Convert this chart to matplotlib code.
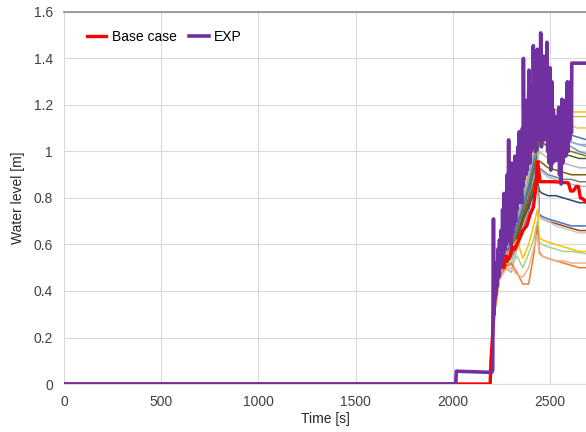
import matplotlib.pyplot as plt
from matplotlib.ticker import FuncFormatter, MultipleLocator

plt.rcParams['font.family'] = ['Liberation Sans', 'DejaVu Sans']

# common time grid for the ensemble runs [s]
t_runs = [0, 2195, 2210, 2240, 2270, 2300, 2330, 2360, 2390, 2415, 2435,
          2445, 2460, 2490, 2530, 2570, 2610, 2650, 2690]

# ensemble runs: (colour, water level [m] at t_runs)
runs = [
    ('#FFC000', [0, 0, 0.35, 0.55, 0.60, 0.65, 0.72, 0.80, 0.88, 0.98, 1.10, 1.18, 1.19, 1.18, 1.18, 1.17, 1.17, 1.17, 1.17]),
    ('#D6B656', [0, 0, 0.34, 0.54, 0.62, 0.60, 0.70, 0.78, 0.90, 1.00, 1.12, 1.16, 1.16, 1.16, 1.15, 1.15, 1.15, 1.15, 1.15]),
    ('#70AD47', [0, 0, 0.33, 0.52, 0.58, 0.62, 0.70, 0.78, 0.86, 0.95, 1.08, 1.15, 1.15, 1.14, 1.13, 1.12, 1.11, 1.10, 1.10]),
    ('#4472C4', [0, 0, 0.32, 0.50, 0.57, 0.60, 0.68, 0.75, 0.85, 0.95, 1.05, 1.12, 1.12, 1.11, 1.10, 1.08, 1.07, 1.06, 1.05]),
    ('#A5A5A5', [0, 0, 0.30, 0.48, 0.50, 0.55, 0.62, 0.72, 0.82, 0.90, 1.02, 1.10, 1.10, 1.08, 1.07, 1.05, 1.04, 1.03, 1.02]),
    ('#997300', [0, 0, 0.31, 0.50, 0.55, 0.58, 0.66, 0.74, 0.84, 0.92, 1.00, 1.08, 1.07, 1.05, 1.03, 1.01, 1.00, 0.99, 0.98]),
    ('#5B9BD5', [0, 0, 0.36, 0.56, 0.62, 0.66, 0.75, 0.85, 0.95, 1.05, 1.10, 1.10, 1.09, 1.07, 1.05, 1.03, 1.02, 1.00, 0.99]),
    ('#43682B', [0, 0, 0.30, 0.47, 0.52, 0.56, 0.64, 0.72, 0.80, 0.90, 0.98, 1.05, 1.04, 1.02, 1.00, 0.99, 0.98, 0.97, 0.97]),
    ('#B7B7B7', [0, 0, 0.29, 0.46, 0.50, 0.48, 0.58, 0.68, 0.78, 0.88, 0.96, 1.00, 0.99, 0.97, 0.96, 0.95, 0.94, 0.93, 0.93]),
    ('#7F6000', [0, 0, 0.30, 0.47, 0.52, 0.55, 0.62, 0.70, 0.78, 0.86, 0.92, 0.96, 0.95, 0.93, 0.92, 0.91, 0.90, 0.90, 0.90]),
    ('#7F7F7F', [0, 0, 0.28, 0.45, 0.50, 0.52, 0.60, 0.66, 0.74, 0.84, 0.90, 0.93, 0.92, 0.90, 0.89, 0.88, 0.88, 0.87, 0.87]),
    ('#9DC3E6', [0, 0, 0.34, 0.55, 0.64, 0.70, 0.80, 0.88, 0.98, 1.02, 1.00, 0.92, 0.91, 0.89, 0.88, 0.87, 0.86, 0.85, 0.85]),
    ('#FFD966', [0, 0, 0.33, 0.52, 0.60, 0.66, 0.74, 0.82, 0.92, 1.02, 1.12, 1.14, 1.13, 1.12, 1.12, 1.11, 1.11, 1.10, 1.10]),
    ('#8FAADC', [0, 0, 0.32, 0.52, 0.58, 0.62, 0.70, 0.80, 0.90, 0.98, 1.05, 1.09, 1.08, 1.07, 1.06, 1.05, 1.04, 1.03, 1.03]),
    ('#264478', [0, 0, 0.30, 0.48, 0.52, 0.56, 0.62, 0.70, 0.76, 0.82, 0.88, 0.83, 0.82, 0.81, 0.81, 0.80, 0.79, 0.78, 0.78]),
    ('#4472C4', [0, 0, 0.31, 0.50, 0.55, 0.60, 0.68, 0.76, 0.84, 0.90, 0.95, 0.73, 0.72, 0.71, 0.70, 0.69, 0.68, 0.68, 0.68]),
    ('#9E480E', [0, 0, 0.30, 0.47, 0.50, 0.55, 0.62, 0.70, 0.78, 0.85, 0.90, 0.72, 0.71, 0.70, 0.69, 0.68, 0.67, 0.66, 0.66]),
    ('#C9C9C9', [0, 0, 0.29, 0.46, 0.50, 0.52, 0.58, 0.64, 0.72, 0.80, 0.85, 0.72, 0.71, 0.70, 0.68, 0.67, 0.66, 0.65, 0.65]),
    ('#FFC000', [0, 0, 0.30, 0.48, 0.55, 0.58, 0.62, 0.54, 0.60, 0.68, 0.75, 0.63, 0.62, 0.61, 0.60, 0.59, 0.58, 0.57, 0.57]),
    ('#A9D18E', [0, 0, 0.29, 0.47, 0.52, 0.51, 0.55, 0.50, 0.56, 0.62, 0.70, 0.61, 0.60, 0.59, 0.58, 0.57, 0.57, 0.565, 0.56]),
    ('#ED7D31', [0, 0, 0.28, 0.46, 0.50, 0.52, 0.48, 0.43, 0.43, 0.55, 0.68, 0.57, 0.55, 0.54, 0.53, 0.52, 0.51, 0.50, 0.50]),
    ('#F4B183', [0, 0, 0.28, 0.45, 0.49, 0.50, 0.47, 0.46, 0.50, 0.58, 0.64, 0.56, 0.55, 0.54, 0.53, 0.53, 0.52, 0.52, 0.52]),
]

# base case simulation
t_base = [0, 2192, 2196, 2215, 2235, 2250, 2262, 2275, 2290, 2305, 2320, 2340, 2360,
          2380, 2398, 2414, 2428, 2436, 2449, 2470, 2520, 2594, 2606, 2620, 2635,
          2646, 2656, 2663, 2690]
h_base = [0, 0, 0.10, 0.35, 0.48, 0.52, 0.50, 0.55, 0.54, 0.59, 0.58, 0.62, 0.66,
          0.68, 0.73, 0.76, 0.85, 0.956, 0.87, 0.87, 0.87, 0.865, 0.83, 0.83, 0.85,
          0.85, 0.80, 0.80, 0.78]

# experiment measurement
t_exp = [0, 2015, 2018, 2200, 2205, 2209, 2212, 2216, 2220, 2224,
         2228, 2232, 2236, 2240, 2244, 2248, 2252, 2256, 2260, 2264,
         2268, 2272, 2276, 2280, 2284, 2287, 2291, 2295, 2299, 2303,
         2307, 2311, 2315, 2319, 2323, 2327, 2331, 2335, 2339, 2342,
         2346, 2350, 2354, 2358, 2361, 2363, 2367, 2371, 2375, 2379,
         2383, 2387, 2392, 2396, 2400, 2404, 2408, 2411, 2414, 2418,
         2422, 2426, 2430, 2435, 2439, 2443, 2447, 2452, 2456, 2460,
         2464, 2468, 2472, 2476, 2480, 2484, 2488, 2492, 2496, 2500,
         2504, 2509, 2513, 2517, 2521, 2525, 2529, 2533, 2537, 2541,
         2545, 2549, 2553, 2557, 2561, 2565, 2569, 2573, 2577, 2581,
         2585, 2589, 2593, 2597, 2601, 2606, 2610, 2612, 2690]
h_exp = [0, 0, 0.055, 0.05, 0.06, 0.71, 0.30, 0.45, 0.38, 0.52,
         0.42, 0.58, 0.46, 0.62, 0.50, 0.66, 0.52, 0.75, 0.55, 0.82,
         0.58, 0.70, 0.60, 0.90, 0.62, 1.05, 0.65, 0.85, 0.60, 0.95,
         0.65, 0.88, 0.68, 0.98, 0.70, 0.92, 0.75, 1.02, 0.78, 1.085,
         0.80, 0.95, 0.78, 1.10, 0.85, 1.40, 0.88, 1.15, 0.90, 1.22,
         0.92, 1.10, 1.35, 0.95, 1.28, 1.00, 1.20, 1.02, 1.455, 1.05,
         1.32, 1.00, 1.25, 1.44, 1.08, 1.30, 1.05, 1.51, 1.02, 1.25,
         1.08, 1.41, 1.05, 1.30, 1.10, 1.47, 1.00, 1.28, 0.95, 1.36,
         0.92, 1.30, 0.95, 1.18, 0.98, 1.15, 0.96, 1.12, 1.00, 1.15,
         1.19, 0.90, 1.10, 0.86, 1.225, 0.95, 1.15, 1.00, 1.22, 0.98,
         1.10, 1.30, 1.00, 1.18, 1.05, 1.30, 1.08, 1.38, 1.38]

fig = plt.figure(figsize=(5.86, 4.32), dpi=100)
ax = fig.add_axes([64 / 586, 48 / 432, 522 / 586, 372 / 432])

for color, h in runs:
    ax.plot(t_runs, h, color=color, lw=1.1, zorder=2)

ax.plot(t_base, h_base, color='#FF0000', lw=2.4, label='Base case', zorder=3)
ax.plot(t_exp, h_exp, color='#7030A0', lw=2.6, label='EXP', zorder=4)

ax.set_xlim(0, 2685)
ax.set_ylim(0, 1.6)
ax.xaxis.set_major_locator(MultipleLocator(500))
ax.yaxis.set_major_locator(MultipleLocator(0.2))
ax.yaxis.set_major_formatter(FuncFormatter(lambda v, p: '%g' % round(v, 1)))
ax.grid(True, color='#D9D9D9', lw=0.8)
ax.set_axisbelow(True)

for side in ['left', 'right']:
    ax.spines[side].set_visible(False)
ax.spines['top'].set_color('#8C8C8C')
ax.spines['top'].set_linewidth(1.2)
ax.spines['bottom'].set_color('#D9D9D9')
ax.tick_params(length=0, labelsize=10, colors='#404040', pad=8)

ax.set_xlabel('Time [s]', fontsize=10, color='#262626', labelpad=2)
ax.set_ylabel('Water level [m]', fontsize=10, color='#262626', labelpad=6)

ax.legend(loc='upper left', bbox_to_anchor=(0.02, 0.985), ncol=2, frameon=False,
          fontsize=10, handlelength=1.4, handletextpad=0.4, columnspacing=0.9)

fig.savefig('out.png', dpi=100)
